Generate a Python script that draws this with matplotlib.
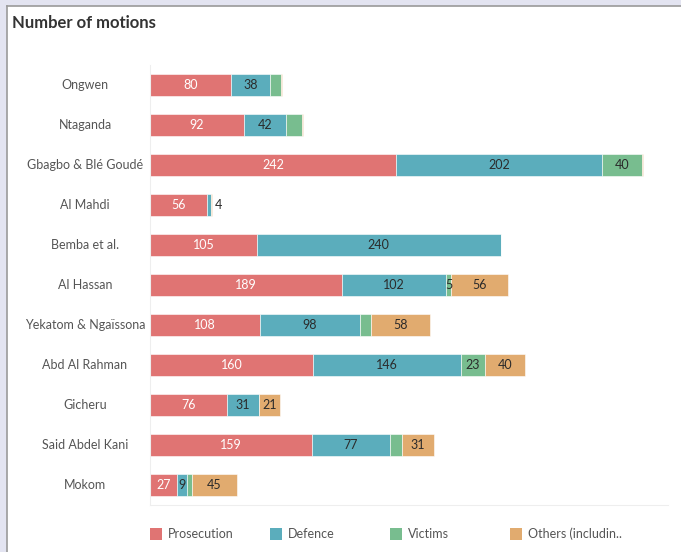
import numpy as np
import matplotlib.pyplot as plt
from matplotlib.patches import Rectangle
from matplotlib.lines import Line2D

cases = ["Ongwen", "Ntaganda", "Gbagbo & Blé Goudé", "Al Mahdi", "Bemba et al.",
         "Al Hassan", "Yekatom & Ngaïssona", "Abd Al Rahman", "Gicheru",
         "Said Abdel Kani", "Mokom"]
prosecution = [80, 92, 242, 56, 105, 189, 108, 160, 76, 159, 27]
defence = [38, 42, 202, 4, 240, 102, 98, 146, 31, 77, 9]
victims = [11, 15, 40, 0, 0, 5, 11, 23, 0, 12, 5]
others = [1, 1, 1, 1, 0, 56, 58, 40, 21, 31, 45]
# which victims segments carry a number
victims_labelled = [False, False, True, False, False, True, False, True, False, False, False]

series_names = ["Prosecution", "Defence", "Victims", "Others (includin.."]
colors = ["#E07473", "#5BADBC", "#78BD8F", "#E1AB6F"]

plt.rcParams['font.family'] = ['Lato', 'DejaVu Sans']

fig = plt.figure(figsize=(6.81, 5.52), dpi=100)
W, H = 681, 552

# dashboard frame
fig.patches.append(Rectangle((0, 0), 1, 1, transform=fig.transFigure,
                             facecolor="#E3E4F1", edgecolor="none", zorder=-3))
fig.patches.append(Rectangle((7 / W, -0.01), 1.02, 1.01 - 6 / H, transform=fig.transFigure,
                             facecolor="white", edgecolor="none", zorder=-2))
fig.lines.append(Line2D([7 / W, 7 / W], [0, 1 - 6 / H], transform=fig.transFigure,
                        color="#9A9A9A", lw=1.2))
fig.lines.append(Line2D([7 / W, 1.01], [1 - 6 / H, 1 - 6 / H], transform=fig.transFigure,
                        color="#9A9A9A", lw=1.2))

fig.text(12 / W, 1 - 23 / H, "Number of motions", fontsize=12, fontweight="bold",
         color="#333333", va="center", ha="left")

ax = fig.add_axes([150 / W, 1 - 505 / H, 518 / W, 440 / H])
ax.set_facecolor("none")
px_per_unit = 1.017
ax.set_xlim(0, 518 / px_per_unit)
ax.set_ylim(len(cases) - 0.5, -0.5)

y = np.arange(len(cases))
left = np.zeros(len(cases))
all_series = [prosecution, defence, victims, others]
for s, (vals, col) in enumerate(zip(all_series, colors)):
    vals = np.array(vals, dtype=float)
    ax.barh(y, vals, left=left, height=0.55, color=col, edgecolor="white",
            linewidth=0.4)
    for i, v in enumerate(vals):
        if v <= 0:
            continue
        show = True
        if s == 2:
            show = victims_labelled[i]
        elif s == 3:
            show = v >= 20
        if not show:
            continue
        txt_col = "white" if s == 0 else "#2B2B2B"
        if v < 6 and s == 1:
            ax.text(left[i] + v + 4, i, f"{int(v)}", ha="left", va="center",
                    fontsize=9, color=txt_col)
        else:
            ax.text(left[i] + v / 2, i, f"{int(v)}", ha="center", va="center",
                    fontsize=9, color=txt_col)
    left += vals

ax.set_xticks([])
ax.set_yticks([])
for side in ["top", "right"]:
    ax.spines[side].set_visible(False)
ax.spines["left"].set_color("#EEEEEE")
ax.spines["bottom"].set_color("#EEEEEE")
ax.spines["left"].set_linewidth(0.8)
ax.spines["bottom"].set_linewidth(0.8)

for i, name in enumerate(cases):
    fig.text(85 / W, 1 - (85 + 40 * i) / H, name, ha="center", va="center",
             fontsize=9, color="#555555")

# legend
for k, (name, col) in enumerate(zip(series_names, colors)):
    x0 = 150 + 120 * k
    fig.patches.append(Rectangle((x0 / W, 1 - 540 / H), 12 / W, 12 / H,
                                 transform=fig.transFigure, facecolor=col,
                                 edgecolor="none"))
    fig.text((x0 + 18) / W, 1 - 534 / H, name, ha="left", va="center",
             fontsize=9, color="#555555")

fig.savefig("out.png", dpi=100)
